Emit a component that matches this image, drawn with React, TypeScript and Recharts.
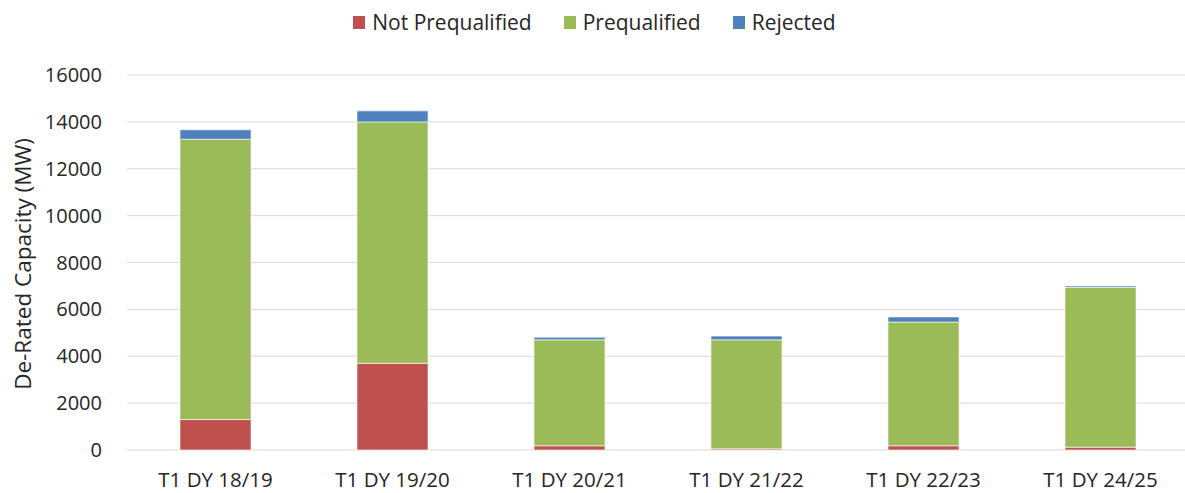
import React from 'react';
import { BarChart, Bar, XAxis, YAxis, CartesianGrid, Legend, Label } from 'recharts';

const categories = ['T1 DY 18/19', 'T1 DY 19/20', 'T1 DY 20/21', 'T1 DY 21/22', 'T1 DY 22/23', 'T1 DY 24/25'];
const notPrequalified = [1300, 3700, 180, 50, 180, 120];
const prequalified = [11960, 10300, 4520, 4650, 5280, 6820];
const rejected = [400, 470, 110, 160, 220, 60];
const yTicks = [0, 2000, 4000, 6000, 8000, 10000, 12000, 14000, 16000];

const SERIES = [
  { key: 'notPrequalified', name: 'Not Prequalified', color: '#C0504D' },
  { key: 'prequalified', name: 'Prequalified', color: '#9BBB59' },
  { key: 'rejected', name: 'Rejected', color: '#4F81BD' },
];

const data = categories.map((name, i) => ({
  name,
  notPrequalified: notPrequalified[i],
  prequalified: prequalified[i],
  rejected: rejected[i],
}));

const FONT = '"Open Sans", sans-serif';

const TopLegend = () => (
  <div
    style={{
      display: 'flex',
      justifyContent: 'center',
      alignItems: 'center',
      height: 44,
      fontFamily: FONT,
      fontSize: 21,
      color: '#262626',
    }}
  >
    {SERIES.map((s) => (
      <span key={s.key} style={{ display: 'flex', alignItems: 'center', margin: '0 16px' }}>
        <span style={{ width: 12, height: 13, background: s.color, marginRight: 7, display: 'inline-block' }} />
        {s.name}
      </span>
    ))}
  </div>
);

const YLabel = () => (
  <text
    x={22}
    y={264}
    transform="rotate(-90, 22, 264)"
    textAnchor="middle"
    dominantBaseline="central"
    fontFamily={FONT}
    fontSize={22.5}
    fill="#262626"
  >
    De-Rated Capacity (MW)
  </text>
);

const App: React.FC = () => {
  return (
    <div style={{ position: 'absolute', left: 0, top: 0, width: 1185, height: 493, overflow: 'hidden', background: '#fff' }}>
      <BarChart
        width={1200}
        height={493}
        data={data}
        margin={{ top: 31, right: 11, bottom: 0, left: 0 }}
      >
        <CartesianGrid vertical={false} stroke="#D9D9D9" />
        <Legend verticalAlign="top" align="center" content={<TopLegend />} wrapperStyle={{ top: 0 }} />
        <XAxis
          dataKey="name"
          axisLine={false}
          tickLine={false}
          tickSize={0}
          tickMargin={22}
          height={43}
          tick={{ fontFamily: FONT, fontSize: 20.5, fill: '#262626' }}
        />
        <YAxis
          width={127}
          domain={[0, 16000]}
          ticks={yTicks}
          axisLine={false}
          tickLine={false}
          tickSize={0}
          tickMargin={25}
          tick={{ fontFamily: FONT, fontSize: 20, fill: '#262626' }}
        >
          <Label content={<YLabel />} />
        </YAxis>
        {SERIES.map((s) => (
          <Bar
            key={s.key}
            dataKey={s.key}
            name={s.name}
            stackId="a"
            fill={s.color}
            barSize={71}
            stroke="#ffffff"
            strokeWidth={0.6}
            isAnimationActive={false}
          />
        ))}
      </BarChart>
    </div>
  );
};

export default App;
